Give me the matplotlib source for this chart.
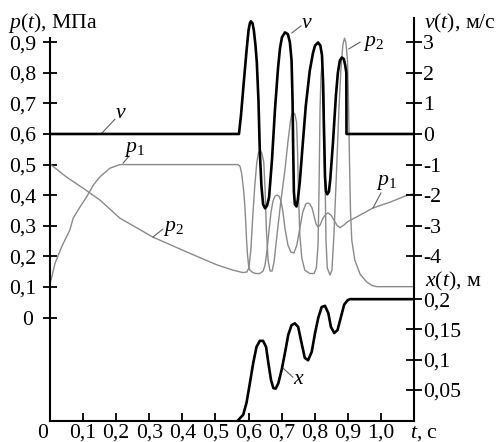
import matplotlib
matplotlib.use("Agg")
import matplotlib.pyplot as plt

plt.rcParams['font.family'] = ['Liberation Serif', 'DejaVu Serif']
plt.rcParams['mathtext.fontset'] = 'custom'
plt.rcParams['mathtext.rm'] = 'Liberation Serif'
plt.rcParams['mathtext.it'] = 'Liberation Serif:italic'
plt.rcParams['mathtext.bf'] = 'Liberation Serif:bold'
plt.rcParams['font.size'] = 15.7

# ---------------- data ----------------
t_ticks = [0.1, 0.2, 0.3, 0.4, 0.5, 0.6, 0.7, 0.8, 0.9, 1.0]
t_ticklabels = ['0,1', '0,2', '0,3', '0,4', '0,5', '0,6', '0,7', '0,8', '0,9', '1,0']
p_ticks = [0.1, 0.2, 0.3, 0.4, 0.5, 0.6, 0.7, 0.8, 0.9]
p_ticklabels = ['0,1', '0,2', '0,3', '0,4', '0,5', '0,6', '0,7', '0,8', '0,9']
v_ticks = [-4, -3, -2, -1, 0, 1, 2, 3]
v_ticklabels = ['-4', '-3', '-2', '-1', '0', '1', '2', '3']
x_ticks = [0.05, 0.10, 0.15, 0.20]
x_ticklabels = ['0,05', '0,1', '0,15', '0,2']

# velocity v(t), m/s
v_t = [0, 0.571, 0.577, 0.586, 0.594, 0.600, 0.604, 0.607, 0.612, 0.616, 0.621, 0.625,
       0.630, 0.634, 0.639, 0.644, 0.650, 0.656, 0.662, 0.671, 0.680, 0.689, 0.695,
       0.701, 0.710, 0.719, 0.725, 0.730, 0.733, 0.735, 0.737, 0.740, 0.745, 0.749,
       0.755, 0.764, 0.773, 0.785, 0.795, 0.801, 0.810, 0.817, 0.822, 0.825, 0.828,
       0.831, 0.834, 0.838, 0.843, 0.847, 0.855, 0.864, 0.870, 0.876, 0.882, 0.888,
       0.892, 0.8955, 0.896, 1.1]
v_val = [0, 0, 0.59, 1.74, 2.73, 3.39, 3.62, 3.68, 3.62, 3.39, 2.89, 2.34,
         1.09, -0.56, -1.71, -2.30, -2.43, -2.34, -2.07, -0.82, 0.82, 2.14, 2.80,
         3.16, 3.32, 3.26, 2.99, 2.40, 1.09, -0.56, -1.88, -2.30, -2.37, -2.14,
         -1.55, -0.30, 0.92, 2.07, 2.66, 2.89, 2.99, 2.89, 2.57, 1.74, 0.10,
         -1.38, -1.88, -1.97, -1.88, -1.48, -0.30, 1.25, 2.01, 2.40, 2.50, 2.45,
         2.25, 2.0, 0, 0]

# displacement x(t), m (zero before the motion starts, coincides with the axis)
x_t = [0.569, 0.584, 0.594, 0.604, 0.614, 0.624, 0.634, 0.644, 0.653, 0.660, 0.668,
       0.675, 0.682, 0.690, 0.700, 0.710, 0.720, 0.730, 0.740, 0.750, 0.760, 0.770,
       0.780, 0.791, 0.801, 0.811, 0.821, 0.831, 0.841, 0.849, 0.859, 0.869, 0.879,
       0.889, 0.899, 0.906, 1.1]
x_val = [0, 0.009, 0.029, 0.061, 0.094, 0.121, 0.131, 0.131, 0.121, 0.094, 0.066,
         0.053, 0.052, 0.061, 0.083, 0.111, 0.141, 0.157, 0.160, 0.154, 0.128, 0.103,
         0.099, 0.113, 0.144, 0.170, 0.187, 0.189, 0.177, 0.154, 0.144, 0.149, 0.170,
         0.191, 0.198, 0.200, 0.200]

# pressure p1(t), MPa
p1_t = [0, 0.015, 0.035, 0.060, 0.070, 0.091, 0.111, 0.131, 0.151, 0.181, 0.211,
        0.568, 0.574, 0.579, 0.585, 0.589, 0.592, 0.594, 0.597, 0.600, 0.604, 0.613,
        0.622, 0.634, 0.644, 0.650, 0.656, 0.662, 0.668, 0.674, 0.680, 0.686, 0.692,
        0.698, 0.704, 0.710, 0.719, 0.728, 0.737, 0.746, 0.755, 0.764, 0.773, 0.779,
        0.785, 0.792, 0.798, 0.804, 0.810, 0.816, 0.825, 0.834, 0.840, 0.849, 0.858,
        0.867, 0.876, 0.888, 0.900, 0.927, 0.976, 1.027, 1.078, 1.1]
p1_val = [0.108, 0.177, 0.231, 0.286, 0.325, 0.362, 0.395, 0.433, 0.460, 0.488, 0.5,
          0.5, 0.495, 0.472, 0.417, 0.361, 0.302, 0.253, 0.204, 0.172, 0.155, 0.147,
          0.144, 0.144, 0.152, 0.172, 0.221, 0.286, 0.345, 0.381, 0.397, 0.400, 0.397,
          0.381, 0.345, 0.292, 0.237, 0.214, 0.211, 0.237, 0.292, 0.345, 0.371, 0.374,
          0.371, 0.358, 0.332, 0.306, 0.296, 0.302, 0.325, 0.338, 0.342, 0.335, 0.319,
          0.302, 0.294, 0.302, 0.314, 0.329, 0.358, 0.377, 0.399, 0.405]

# pressure p2(t), MPa
p2_t = [0, 0.050, 0.100, 0.151, 0.211, 0.311, 0.414, 0.505, 0.553, 0.583, 0.595,
        0.601, 0.607, 0.613, 0.619, 0.625, 0.630, 0.635, 0.640, 0.646, 0.650, 0.654,
        0.659, 0.665, 0.671, 0.677, 0.686, 0.698, 0.710, 0.719, 0.727, 0.731, 0.735,
        0.740, 0.745, 0.748, 0.751, 0.755, 0.761, 0.770, 0.785, 0.798, 0.805, 0.810,
        0.813, 0.816, 0.819, 0.822, 0.825, 0.828, 0.831, 0.834, 0.838, 0.846, 0.852,
        0.858, 0.866, 0.873, 0.879, 0.885, 0.890, 0.894, 0.899, 0.902, 0.905, 0.908,
        0.912, 0.921, 0.937, 0.957, 0.973, 0.988, 1.1]
p2_val = [0.502, 0.459, 0.423, 0.384, 0.325, 0.263, 0.214, 0.172, 0.155, 0.147, 0.149,
          0.162, 0.221, 0.335, 0.433, 0.508, 0.538, 0.547, 0.538, 0.508, 0.417, 0.286,
          0.188, 0.152, 0.152, 0.181, 0.270, 0.384, 0.482, 0.574, 0.645, 0.665, 0.670,
          0.665, 0.639, 0.547, 0.400, 0.270, 0.194, 0.155, 0.144, 0.144, 0.162, 0.237,
          0.417, 0.678, 0.792, 0.822, 0.809, 0.727, 0.482, 0.253, 0.162, 0.139, 0.155,
          0.270, 0.482, 0.678, 0.809, 0.891, 0.913, 0.900, 0.842, 0.712, 0.515, 0.351,
          0.253, 0.188, 0.142, 0.116, 0.105, 0.101, 0.101]

# ---------------- layout ----------------
P_LO, P_HI = -0.338, 0.979
V_LO, V_HI = (P_LO - 0.6) * 10, (P_HI - 0.6) * 10
X_LO, X_HI = -0.0015, 0.665

fig = plt.figure(figsize=(4.97, 4.42), dpi=100)
ax = fig.add_axes([50 / 497, 21 / 442, 364 / 497, 403 / 442])
axv = ax.twinx()
axx = ax.twinx()

GRAY = '#8a8a8a'
LEAD = '#606060'

ax.plot(p2_t, p2_val, color=GRAY, lw=1.0, solid_joinstyle='round')
ax.plot(p1_t, p1_val, color=GRAY, lw=1.0, solid_joinstyle='round')
axv.plot(v_t, v_val, color='black', lw=1.9, solid_joinstyle='round')
axx.plot(x_t, x_val, color='black', lw=1.9, solid_joinstyle='round')

ax.set_xlim(0, 1.1)
ax.set_ylim(P_LO, P_HI)
axv.set_ylim(V_LO, V_HI)
axx.set_ylim(X_LO, X_HI)

for a in (ax, axv, axx):
    for s in a.spines.values():
        s.set_visible(False)
        s.set_linewidth(1.5)
ax.spines['left'].set_visible(True)
ax.spines['left'].set_bounds(P_LO, 0.915)
ax.spines['bottom'].set_visible(True)
axv.spines['right'].set_visible(True)

ax.set_xticks(t_ticks)
ax.set_xticklabels(t_ticklabels)
ax.set_yticks(p_ticks + [0])
ax.set_yticklabels(p_ticklabels + [''])
ax.tick_params(axis='x', direction='in', length=6, width=1.3, pad=2)
ax.tick_params(axis='y', direction='inout', length=10, width=1.3, pad=5)

axv.set_yticks(v_ticks)
axv.set_yticklabels(v_ticklabels)
axv.tick_params(axis='y', direction='inout', length=12, width=1.3, pad=0.5)
axx.set_yticks(x_ticks)
axx.set_yticklabels(x_ticklabels)
axx.tick_params(axis='y', direction='inout', length=12, width=1.3, pad=0.5)

# separate zero labels (offset as in reference)
ax.annotate('0', xy=(0, 0), xycoords=('data', 'axes fraction'), xytext=(-5, -2.5),
            textcoords='offset points', ha='center', va='top')
ax.annotate('0', xy=(0, 0), xycoords=('axes fraction', 'data'), xytext=(-12.5, 0),
            textcoords='offset points', ha='right', va='center_baseline')
ax.annotate(r'$\mathit{t}$, с', xy=(1.1, 0), xycoords=('data', 'axes fraction'),
            xytext=(7, -2.5), textcoords='offset points', ha='center', va='top')

# axis titles
fig.text(8 / 497, 1 - 28 / 442, r'$\mathit{p(t)}$, МПа', ha='left', va='baseline')
fig.text(424 / 497, 1 - 28 / 442, r'$\mathit{v(t)}$, м/с', ha='left', va='baseline')
fig.text(425 / 497, 1 - 286 / 442, r'$\mathit{x(t)}$, м', ha='left', va='baseline')

# curve labels with leader lines (in p-axis data coords)
def lab(txt, tx, ty, x0, y0, x1, y1):
    ax.plot([x0, x1], [y0, y1], color=LEAD, lw=0.8)
    ax.text(tx, ty, txt, ha='center', va='center')

lab(r'$v$', 0.214, 0.668, 0.157, 0.603, 0.196, 0.648)
lab(r'$p_1$', 0.255, 0.550, 0.221, 0.505, 0.239, 0.528)
lab(r'$p_2$', 0.372, 0.292, 0.311, 0.263, 0.341, 0.289)
lab(r'$v$', 0.776, 0.960, 0.731, 0.930, 0.758, 0.953)
lab(r'$p_2$', 0.978, 0.897, 0.903, 0.878, 0.937, 0.900)
lab(r'$p_1$', 1.016, 0.440, 0.976, 0.358, 1.000, 0.407)
lab(r'$x$', 0.752, -0.204, 0.704, -0.165, 0.734, -0.195)

fig.savefig('out.png', dpi=100)
